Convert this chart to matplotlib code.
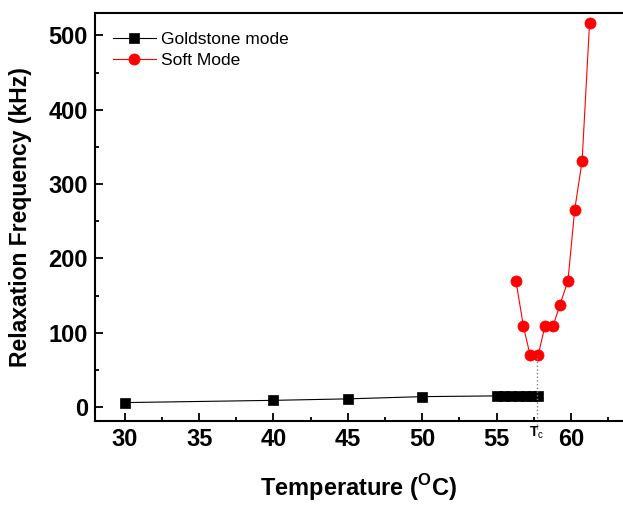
import numpy as np
import matplotlib
matplotlib.use("Agg")
import matplotlib.pyplot as plt
from matplotlib.ticker import MultipleLocator

plt.rcParams['font.family'] = ['Liberation Sans', 'DejaVu Sans']
plt.rcParams['mathtext.fontset'] = 'custom'
plt.rcParams['mathtext.rm'] = 'Liberation Sans'
plt.rcParams['mathtext.bf'] = 'Liberation Sans:bold'

# Goldstone mode
gold_t = [30, 40, 45, 50, 55, 55.5, 56, 56.5, 57, 57.4, 57.8]
gold_f = [6, 9, 11, 14, 15, 15, 15, 15, 15, 15, 15]

# Soft mode
soft_t = [56.3, 56.8, 57.25, 57.8, 58.25, 58.8, 59.25, 59.8, 60.25, 60.75, 61.25]
soft_f = [170, 109, 70, 70, 109, 109, 137, 170, 265, 331, 516]

tc = 57.7
tc_f = 70

fig = plt.figure(figsize=(6.23, 5.05), dpi=100)
ax = fig.add_axes([0.1525, 0.1663, 0.8475, 0.8086])

ax.plot(gold_t, gold_f, color='black', lw=0.8, marker='s', ms=7, mew=0.5, label='Goldstone mode')
ax.plot(soft_t, soft_f, color='red', lw=0.8, marker='o', ms=8, mew=0.5, label='Soft Mode')
ax.vlines(tc, -30, tc_f, colors='gray', linestyles=':', lw=1.0, clip_on=False)

ax.set_xlim(28, 63.5)
ax.set_ylim(-18.8, 530.5)
ax.xaxis.set_major_locator(MultipleLocator(5))
ax.xaxis.set_minor_locator(MultipleLocator(2.5))
ax.yaxis.set_major_locator(MultipleLocator(100))
ax.yaxis.set_minor_locator(MultipleLocator(50))
ax.set_xticks([30, 35, 40, 45, 50, 55, 60])
ax.tick_params(which='both', direction='in', top=False, right=False, width=1.3)
ax.tick_params(which='major', length=6, labelsize=17, pad=5)
ax.tick_params(which='minor', length=3)
for lbl in ax.get_xticklabels() + ax.get_yticklabels():
    lbl.set_fontweight('bold')
ax.spines['right'].set_visible(False)
for s in ['left', 'bottom', 'top']:
    ax.spines[s].set_linewidth(1.5)

ax.text(tc, -24, r'T$_{\mathrm{c}}$', ha='center', va='top', fontsize=10, fontweight='bold')

ax.set_xlabel(r'Temperature ($^{\mathbf{O}}$C)', fontsize=17, fontweight='bold', labelpad=15)
ax.set_ylabel('Relaxation Frequency (kHz)', fontsize=16.5, fontweight='bold', labelpad=12)

ax.legend(loc='upper left', frameon=False, prop={'family': 'Liberation Sans', 'size': 12.5},
          handlelength=2.5, handletextpad=0.3, labelspacing=0.35,
          borderaxespad=0.0, bbox_to_anchor=(0.02, 0.97))

fig.savefig('out.png', dpi=100)
